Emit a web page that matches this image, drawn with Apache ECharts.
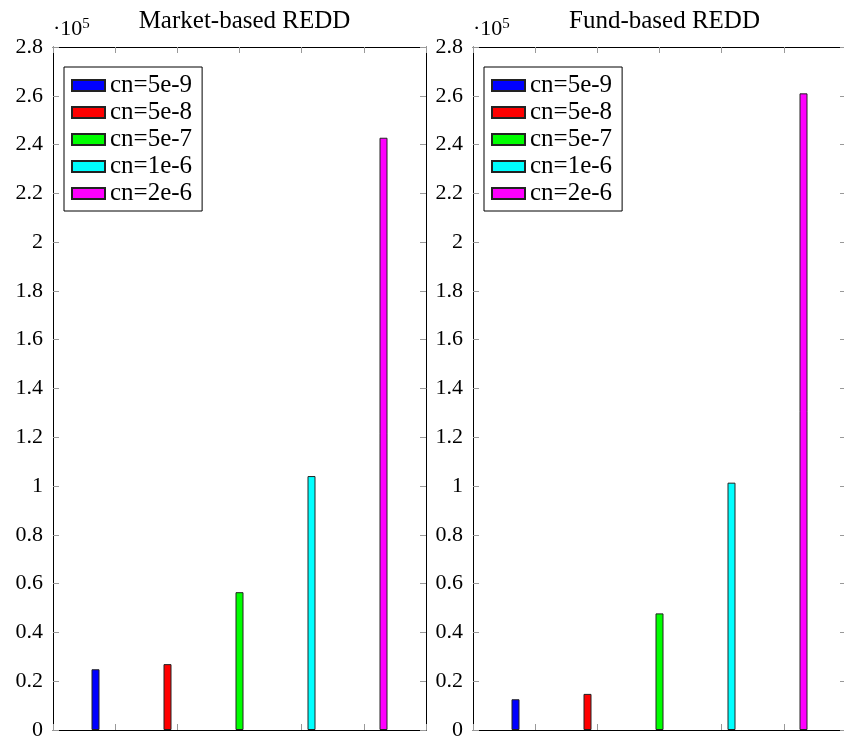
<!DOCTYPE html>
<html>
<head>
<meta charset="utf-8">
<script src="https://cdn.jsdelivr.net/npm/echarts@6/dist/echarts.min.js"></script>
<style>html,body{margin:0;padding:0;background:#fff;}#c{width:844px;height:740px;}</style>
</head>
<body>
<div id="c"></div>
<script>
const panelTitles = ['Market-based REDD', 'Fund-based REDD'];
const seriesNames = ['cn=5e-9', 'cn=5e-8', 'cn=5e-7', 'cn=1e-6', 'cn=2e-6'];
const seriesColors = ['#0000ff', '#ff0000', '#00ff00', '#00ffff', '#ff00ff'];
const marketValues = [24900, 27000, 56500, 104100, 242800];
const fundValues = [12600, 14800, 47800, 101400, 261000];
const yMin = 0, yMax = 280000, yStep = 20000;
const xTickMin = 0, xTickMax = 6, xTickStep = 1;

const FONT = '"Liberation Serif", "Times New Roman", serif';
const chart = echarts.init(document.getElementById('c'), null, {renderer: 'canvas'});

const panels = [
  {left: 53, width: 373, values: marketValues, title: panelTitles[0]},
  {left: 473, width: 373, values: fundValues, title: panelTitles[1]}
];
const plotTop = 47, plotHeight = 683;
const tickColor = '#999';

const grid = [], xAxis = [], yAxis = [], series = [], title = [], legend = [], graphic = [];

panels.forEach((p, i) => {
  const gBar = grid.length;
  grid.push({left: p.left, top: plotTop, width: p.width, height: plotHeight, outerBoundsMode: 'none', containLabel: false});
  const gFrame = grid.length;
  grid.push({left: p.left, top: plotTop, width: p.width, height: plotHeight, outerBoundsMode: 'none', containLabel: false});

  const xBar = xAxis.length;
  xAxis.push({type: 'category', gridIndex: gBar, data: [''], show: false});
  const yBar = yAxis.length;
  yAxis.push({
    type: 'value', gridIndex: gBar, min: yMin, max: yMax, interval: yStep, position: 'left',
    axisLine: {show: true, lineStyle: {color: '#000', width: 1}},
    axisTick: {show: true, inside: true, length: 6, lineStyle: {color: tickColor, width: 1}},
    splitLine: {show: false},
    axisLabel: {
      margin: 10, color: '#000', fontFamily: FONT, fontSize: 22,
      formatter: v => String(parseFloat((v / 100000).toFixed(1)))
    }
  });
  ['bottom', 'top'].forEach(pos => {
    xAxis.push({
      type: 'value', gridIndex: gFrame, position: pos, min: xTickMin, max: xTickMax, interval: xTickStep,
      axisLine: {show: true, onZero: false, lineStyle: {color: '#000', width: 1}},
      axisTick: {show: true, inside: true, length: 6, lineStyle: {color: tickColor, width: 1}},
      axisLabel: {show: false}, splitLine: {show: false}
    });
  });
  yAxis.push({
    type: 'value', gridIndex: gFrame, position: 'right', min: yMin, max: yMax, interval: yStep,
    axisLine: {show: true, onZero: false, lineStyle: {color: '#000', width: 1}},
    axisTick: {show: true, inside: true, length: 6, lineStyle: {color: tickColor, width: 1}},
    axisLabel: {show: false}, splitLine: {show: false}
  });

  seriesNames.forEach((name, k) => {
    series.push({
      type: 'bar', name: name, xAxisIndex: xBar, yAxisIndex: yBar,
      data: [p.values[k]], barWidth: 8, barGap: '800%',
      itemStyle: {color: seriesColors[k], borderColor: '#222', borderWidth: 1},
      emphasis: {disabled: true}, animation: false
    });
  });

  title.push({
    text: p.title, left: p.left + p.width / 2, top: 4, textAlign: 'center',
    textStyle: {fontFamily: FONT, fontSize: 25, fontWeight: 'normal', color: '#000'}
  });

  legend.push({
    orient: 'vertical', left: p.left + 11, top: 67,
    data: seriesNames, icon: 'rect', itemWidth: 33, itemHeight: 11, itemGap: 2,
    padding: [6, 10, 5, 7], borderColor: '#000', borderWidth: 1, backgroundColor: '#fff',
    selectedMode: false,
    textStyle: {fontFamily: FONT, fontSize: 25, color: '#000', lineHeight: 25, padding: [0, 0, 0, 0]}
  });

  graphic.push({
    type: 'text', left: p.left, top: 17,
    style: {
      text: '{a|·10}{b|5}',
      rich: {
        a: {fontFamily: FONT, fontSize: 22, fill: '#000'},
        b: {fontFamily: FONT, fontSize: 15, fill: '#000', verticalAlign: 'top', padding: [0, 0, 10, 0]}
      }
    }
  });
});

chart.setOption({
  animation: false,
  backgroundColor: '#fff',
  title, grid, xAxis, yAxis, series, legend, graphic
});
</script>
</body>
</html>
